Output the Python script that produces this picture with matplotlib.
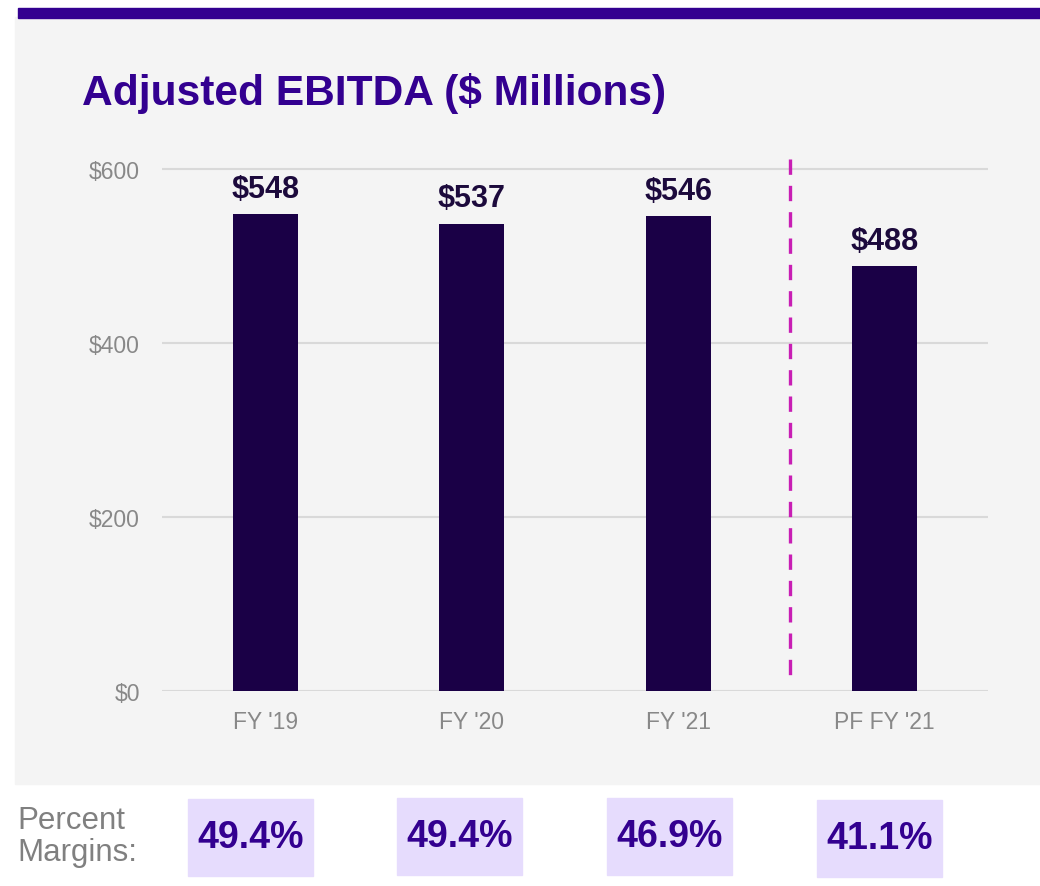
import matplotlib.pyplot as plt
from matplotlib.patches import Rectangle

# data
periods = ["FY '19", "FY '20", "FY '21", "PF FY '21"]
ebitda = [548, 537, 546, 488]
margins = ["49.4%", "49.4%", "46.9%", "41.1%"]
yticks = [0, 200, 400, 600]

W, H = 1040, 887
fig = plt.figure(figsize=(W / 100, H / 100), dpi=100)
plt.rcParams['font.family'] = ['Liberation Sans', 'DejaVu Sans']

# grey panel + top purple rule (drawn under the axes)
fig.patches.append(Rectangle((15 / W, 1 - 785 / H), (W - 15) / W, (785 - 18) / H,
                             transform=fig.transFigure, color='#f4f4f4', zorder=-2))
fig.patches.append(Rectangle((18 / W, 1 - 18.5 / H), (W - 18) / W, 9.5 / H,
                             transform=fig.transFigure, color='#330090', zorder=-1))

fig.text(82 / W, 1 - 93 / H, "Adjusted EBITDA ($ Millions)", fontsize=30.6,
         fontweight='bold', color='#330090', va='center', ha='left')

ax = fig.add_axes([162 / W, 1 - 692 / H, (988 - 162) / W, (692 - 152.6) / H])
ax.set_facecolor('none')
x = list(range(len(periods)))
ax.bar(x, ebitda, width=0.315, color='#1a0046', zorder=3)
for xi, v in zip(x, ebitda):
    ax.text(xi, v + 12, "$%d" % v, ha='center', va='bottom', fontsize=22,
            fontweight='bold', color='#1c0a3c')

ax.set_xlim(-0.5, 3.5)
ax.set_ylim(0, 620)
ax.set_yticks(yticks)
ax.set_yticklabels(["$%d" % t for t in yticks])
ax.set_xticks(x)
ax.set_xticklabels(periods)
ax.tick_params(axis='both', length=0, labelsize=16.5, labelcolor='#888888')
ax.tick_params(axis='y', pad=16)
ax.tick_params(axis='x', pad=14)
for s in ax.spines.values():
    s.set_visible(False)
ax.set_axisbelow(True)
ax.yaxis.grid(True, color='#d9d9d9', linewidth=1.5)

# pro forma separator (drawn top-down so a dash starts at the top)
ax.vlines(2.54, 612, 12, colors='#c81eb4', linestyles=(0, (4.6, 3.3)),
          linewidth=2.4, zorder=4, clip_on=False)

# percent margins row
fig.text(17 / W, 1 - 837 / H, "Percent\nMargins:", fontsize=22.5, color='#808080',
         ha='left', va='center', linespacing=1.12)
box_x = [250.5, 459.5, 669.5, 879.5]
box_y = [838.5, 837.5, 837.5, 839.5]
for bx, by, m in zip(box_x, box_y, margins):
    fig.patches.append(Rectangle(((bx - 62.5) / W, 1 - (by + 38.5) / H), 125 / W, 77 / H,
                                 transform=fig.transFigure, color='#e6dcfd', zorder=1))
    fig.text(bx / W, 1 - by / H, m, fontsize=27, fontweight='bold', color='#330090',
             ha='center', va='center')

fig.savefig('out.png', dpi=100)
